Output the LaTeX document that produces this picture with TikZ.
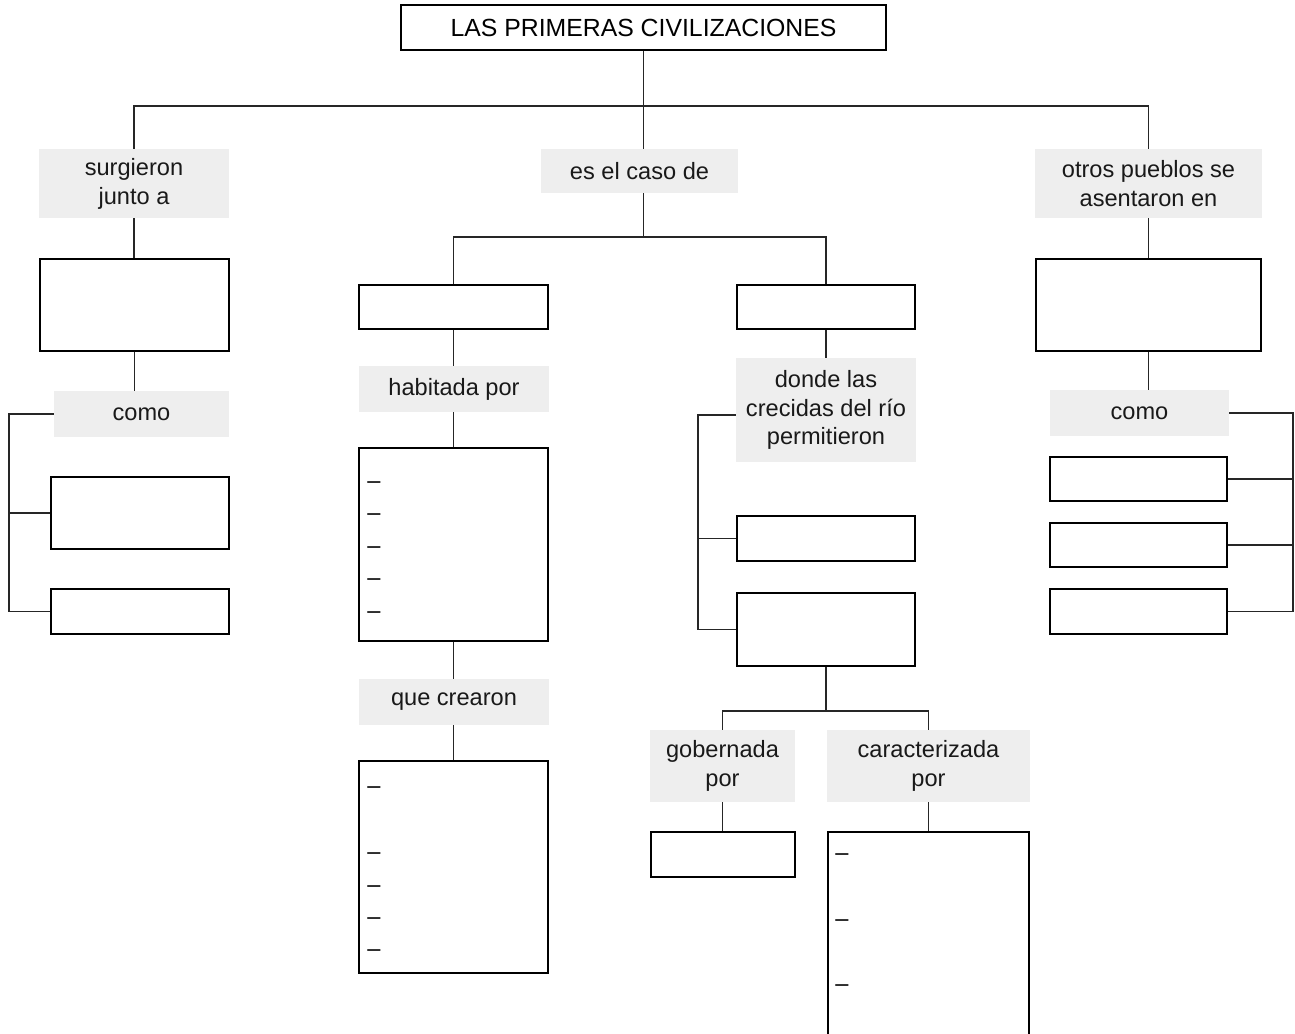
\documentclass[tikz,border=0pt]{standalone}
\usepackage{fontspec}
\setmainfont{Liberation Sans}
\definecolor{labgray}{HTML}{EEEEEE}
\newcommand\labfont{\fontsize{11.8}{14.4}\selectfont}
\newcommand\titfont{\fontsize{12.4}{14.4}\selectfont}
\begin{document}
\begin{tikzpicture}[x=0.5pt,y=-0.5pt,
  sz/.style n args={2}{minimum width=#1pt, minimum height=#2pt},
  box/.style={draw=black, line width=0.65pt, fill=white, inner sep=0pt, font=\labfont},
  lab/.style={fill=labgray, inner sep=0pt, align=center, font=\labfont, text=black!90},
  ln/.style={draw=black!85, line width=0.6pt},
  dsh/.style={anchor=west, inner sep=0pt, font=\labfont}]
\clip (0,0) rectangle (1295,1033);
\fill[white] (0,0) rectangle (1295,1033);
% title
\node[box, sz={242.5}{22.5}, font=\titfont] (title) at (643.5,27.5) {LAS PRIMERAS CIVILIZACIONES};
% top labels
\node[lab, sz={95}{34.5}] (surg) at (134,183.5) {surgieron\\junto a};
\node[lab, sz={98.5}{22}] (es) at (639.5,171) {es el caso de};
\node[lab, sz={113.5}{34.5}] (otros) at (1148.5,183.5) {otros pueblos se\\asentaron en};
\coordinate (hub) at (643.5,106);
\draw[ln] (title.south) -- (hub);
\draw[ln] (surg.north) -- (surg.north |- hub) -- (otros.north |- hub) -- (otros.north);
\draw[ln] (hub) -- (hub |- es.north);
% left column
\node[box, sz={94.5}{46}] (L1) at (134.5,305) {};
\node[lab, sz={87.5}{23}] (como1) at (141.5,414) {como};
\node[box, sz={89}{36}] (L2) at (140,513) {};
\node[box, sz={89}{22.5}] (L3) at (140,611.5) {};
\coordinate (lb) at (9,0);
\draw[ln] (surg.south) -- (surg.south |- L1.north);
\draw[ln] (L1.south) -- (L1.south |- como1.north);
\draw[ln] (como1.west) -| (lb |- L3.west) -- (L3.west);
\draw[ln] (L2.west) -- (lb |- L2.west);
% center
\coordinate (hub2) at (643.5,237);
\draw[ln] (hub |- es.south) -- (hub2);
\node[box, sz={94.5}{22}] (C1) at (453.5,307) {};
\node[box, sz={89}{22}] (D1) at (826,307) {};
\draw[ln] (C1.north) -- (C1.north |- hub2) -- (D1.north |- hub2) -- (D1.north);
% habitada branch
\node[lab, sz={95}{23}] (hab) at (454,389) {habitada por};
\node[box, sz={94.5}{96.5}] (hablist) at (453.5,544.5) {};
\node[lab, sz={95}{23}] (que) at (454,702) {que crearon};
\node[box, sz={94.5}{106}] (quelist) at (453.5,867) {};
\draw[ln] (C1.south) -- (C1.south |- hab.north);
\draw[ln] (C1.south |- hab.south) -- (hablist.north);
\draw[ln] (hablist.south) -- (hablist.south |- que.north);
\draw[ln] (hablist.south |- que.south) -- (quelist.north);
\foreach \y [count=\i] in {485,517,550,582,615}
  \node[dsh] (hd\i) at (367,\y) {–};
\foreach \y [count=\i] in {790,856,889,921,953}
  \node[dsh] (qd\i) at (367,\y) {–};
% donde branch
\node[lab, sz={90}{52}] (donde) at (826,410) {donde las\\crecidas del río\\permitieron};
\node[box, sz={89}{22.5}] (DA) at (826,538.5) {};
\node[box, sz={89}{36.5}] (DB) at (826,629.5) {};
\coordinate (cb) at (698,0);
\draw[ln] (D1.south) -- (D1.south |- donde.north);
\draw[ln] ([yshift=-2.5pt]donde.west) -| (cb |- DB.west) -- (DB.west);
\draw[ln] (DA.west) -- (cb |- DA.west);
\coordinate (hub3) at (826,711);
\node[lab, sz={72.5}{36}] (gob) at (722.5,766) {gobernada\\por};
\node[lab, sz={101.5}{36}] (car) at (928.5,766) {caracterizada\\por};
\draw[ln] (DB.south) -- (hub3);
\draw[ln] (gob.north) -- (gob.north |- hub3) -- (car.north |- hub3) -- (car.north);
\node[box, sz={72}{22.5}] (G1) at (723,854.5) {};
\node[box, sz={100.5}{114}] (carlist) at (928.5,946) {};
\draw[ln] (gob.south) -- (gob.south |- G1.north);
\draw[ln] (car.south) -- (car.south |- carlist.north);
\foreach \y [count=\i] in {857,923,988}
  \node[dsh] (cd\i) at (835,\y) {–};
% right column
\node[box, sz={112.5}{46}] (R1) at (1148.5,305) {};
\node[lab, sz={89.5}{23}] (como2) at (1139.5,413) {como};
\node[box, sz={88.5}{22}] (R2) at (1138.5,479) {};
\node[box, sz={88.5}{22}] (R3) at (1138.5,545) {};
\node[box, sz={88.5}{22.5}] (R4) at (1138.5,611.5) {};
\coordinate (rb) at (1293,0);
\draw[ln] (otros.south) -- (otros.south |- R1.north);
\draw[ln] (R1.south) -- (R1.south |- como2.north);
\draw[ln] (como2.east) -| (rb |- R4.east) -- (R4.east);
\draw[ln] (R2.east) -- (rb |- R2.east);
\draw[ln] (R3.east) -- (rb |- R3.east);
\end{tikzpicture}
\end{document}
